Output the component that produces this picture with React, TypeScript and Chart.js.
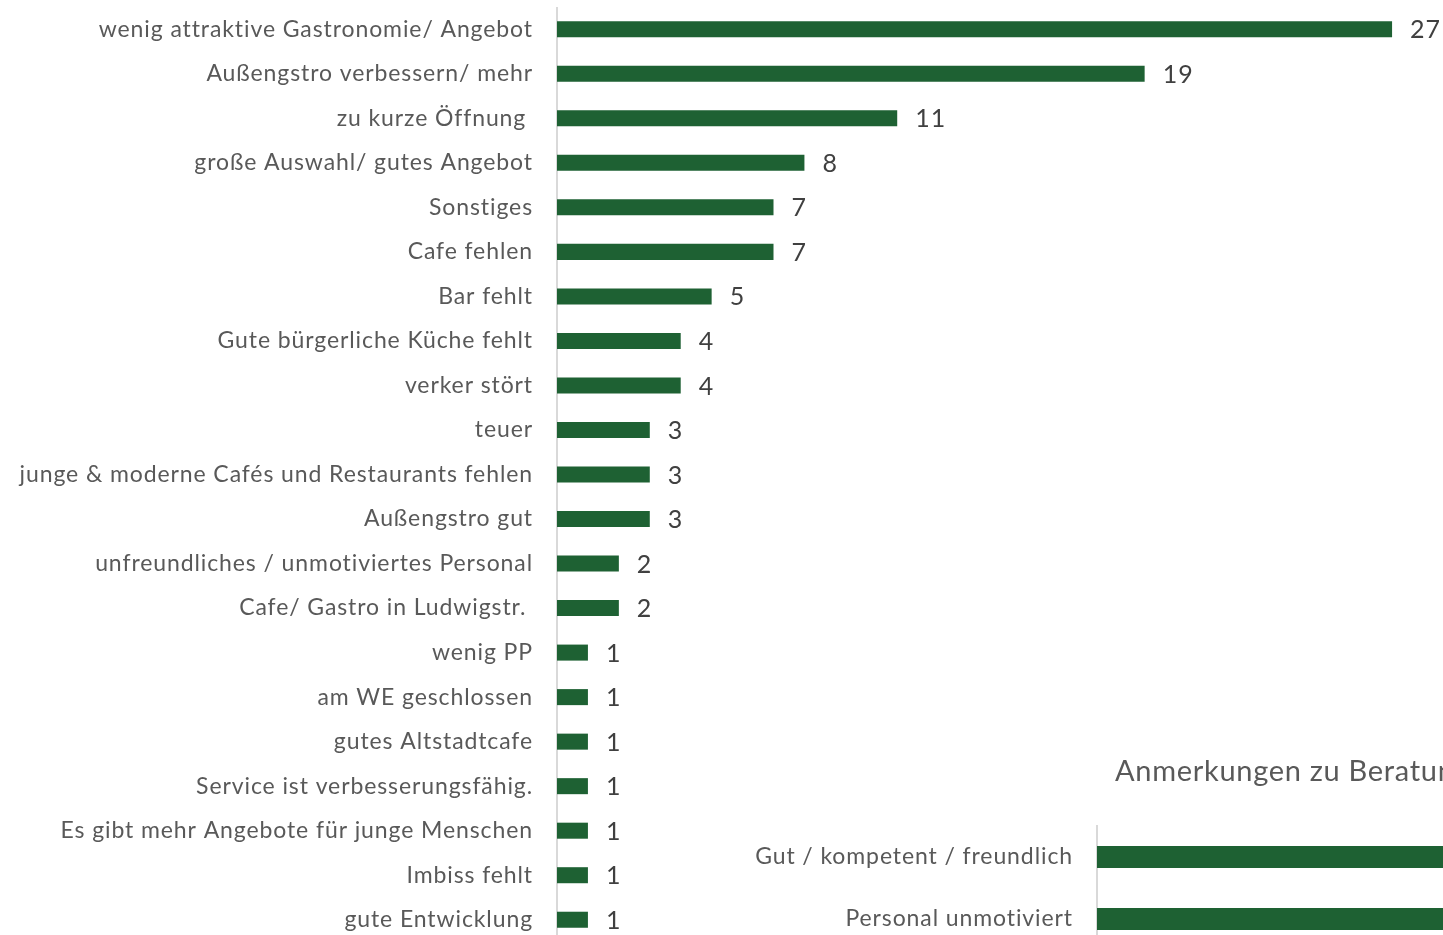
import React, { useEffect, useRef } from "react";
import { Chart, registerables } from "chart.js";

Chart.register(...registerables);

const categories: string[] = [
  "wenig attraktive Gastronomie/ Angebot",
  "Außengstro verbessern/ mehr",
  "zu kurze Öffnung ",
  "große Auswahl/ gutes Angebot",
  "Sonstiges",
  "Cafe fehlen",
  "Bar fehlt",
  "Gute bürgerliche Küche fehlt",
  "verker stört",
  "teuer",
  "junge & moderne Cafés und Restaurants fehlen",
  "Außengstro gut",
  "unfreundliches / unmotiviertes Personal",
  "Cafe/ Gastro in Ludwigstr. ",
  "wenig PP",
  "am WE geschlossen",
  "gutes Altstadtcafe",
  "Service ist verbesserungsfähig.",
  "Es gibt mehr Angebote für junge Menschen",
  "Imbiss fehlt",
  "gute Entwicklung",
];
const values: number[] = [27, 19, 11, 8, 7, 7, 5, 4, 4, 3, 3, 3, 2, 2, 1, 1, 1, 1, 1, 1, 1];

const beratungTitle = "Anmerkungen zu Beratung";
const beratungCategories: string[] = ["Gut / kompetent / freundlich", "Personal unmotiviert"];
const beratungValues: number[] = [12, 12];

const GREEN = "#1E6133";
const LABEL = "#595959";
const VALUE = "#404040";
const FONT = "Lato, 'Noto Sans', sans-serif";

const spacing = {
  id: "spacing",
  beforeDraw(chart: any) {
    chart.ctx.letterSpacing = "0.9px";
  },
};

const valueLabels = {
  id: "valueLabels",
  afterDatasetsDraw(chart: any) {
    const ctx = chart.ctx;
    ctx.save();
    ctx.letterSpacing = "1px";
    ctx.font = `400 25px ${FONT}`;
    ctx.fillStyle = VALUE;
    ctx.textAlign = "left";
    ctx.textBaseline = "middle";
    const meta = chart.getDatasetMeta(0);
    meta.data.forEach((bar: any, i: number) => {
      ctx.fillText(String(chart.data.datasets[0].data[i]), bar.x + 18, bar.y + 1);
    });
    ctx.restore();
  },
};

const titlePlugin = {
  id: "sideTitle",
  afterDraw(chart: any) {
    const ctx = chart.ctx;
    const a = chart.chartArea;
    ctx.save();
    ctx.letterSpacing = "0.7px";
    ctx.font = `400 29px ${FONT}`;
    ctx.fillStyle = LABEL;
    ctx.textAlign = "left";
    ctx.textBaseline = "alphabetic";
    ctx.fillText(beratungTitle, a.left + 18, a.top - 45);
    ctx.restore();
  },
};

function yScale(width: number, size: number) {
  return {
    grid: { display: false, drawTicks: false },
    border: { display: true, color: "#d9d9d9", width: 2 },
    ticks: { color: LABEL, font: { family: FONT, size }, padding: 24, autoSkip: false },
    afterFit: (s: any) => {
      s.width = width;
      s.paddingTop = 0;
      s.paddingBottom = 0;
    },
  };
}

export default function App() {
  const mainRef = useRef<HTMLCanvasElement>(null);
  const sideRef = useRef<HTMLCanvasElement>(null);

  useEffect(() => {
    document.body.style.margin = "0";
    document.body.style.overflow = "hidden";
    const main = new Chart(mainRef.current!, {
      type: "bar",
      data: {
        labels: categories,
        datasets: [
          {
            data: values,
            backgroundColor: GREEN,
            barPercentage: 0.36,
            categoryPercentage: 1,
          },
        ],
      },
      options: {
        indexAxis: "y",
        responsive: false,
        animation: false,
        layout: { padding: { left: 0, right: 20, top: 0, bottom: 0 } },
        plugins: { legend: { display: false }, tooltip: { enabled: false } },
        scales: {
          x: { display: false, min: 0, max: 28 },
          y: yScale(557, 23) as any,
        },
      },
      plugins: [spacing, valueLabels],
    });

    const side = new Chart(sideRef.current!, {
      type: "bar",
      data: {
        labels: beratungCategories,
        datasets: [
          {
            data: beratungValues,
            backgroundColor: GREEN,
            barPercentage: 0.355,
            categoryPercentage: 1,
          },
        ],
      },
      options: {
        indexAxis: "y",
        responsive: false,
        animation: false,
        layout: { padding: { left: 0, right: 0, top: 90, bottom: 0 } },
        plugins: { legend: { display: false }, tooltip: { enabled: false } },
        scales: {
          x: { display: false, min: 0, max: 10 },
          y: yScale(357, 23) as any,
        },
      },
      plugins: [spacing, titlePlugin],
    });

    return () => {
      main.destroy();
      side.destroy();
    };
  }, []);

  return (
    <div
      style={{
        position: "fixed",
        left: 0,
        top: 0,
        width: 1443,
        height: 935,
        overflow: "hidden",
        background: "#fff",
      }}
    >
      <canvas
        ref={mainRef}
        width={1443}
        height={935}
        style={{ position: "absolute", left: 0, top: 7, width: 1443, height: 935 }}
      />
      <canvas
        ref={sideRef}
        width={720}
        height={214}
        style={{ position: "absolute", left: 740, top: 736, width: 720, height: 214 }}
      />
    </div>
  );
}
